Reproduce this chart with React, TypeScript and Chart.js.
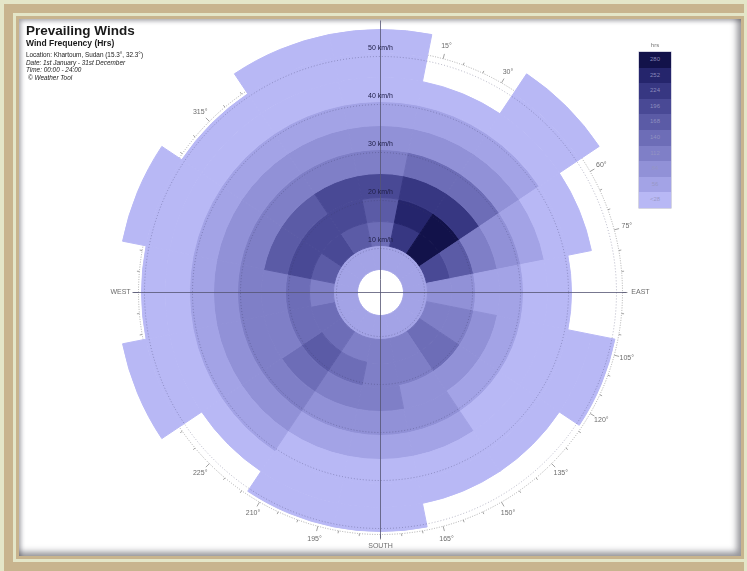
import React, { useEffect, useRef } from 'react';
import { Chart, registerables } from 'chart.js';

Chart.register(...registerables);

// ---- data ----
const directions = ['N', 'NNE', 'NE', 'ENE', 'E', 'ESE', 'SE', 'SSE', 'S', 'SSW', 'SW', 'WSW', 'W', 'WNW', 'NW', 'NNW'];
const speedBins = ['5-10', '10-15', '15-20', '20-25', '25-30', '30-35', '35-40', '40-45', '45-50', '50-55']; // km/h

// hours per direction (N .. NNW) for each wind speed band
const hours5to10 = [48, 52, 55, 46, 38, 36, 41, 44, 47, 45, 50, 49, 43, 51, 53, 50];
const hours10to15 = [128, 210, 268, 182, 74, 96, 124, 92, 98, 101, 118, 126, 104, 150, 176, 146];
const hours15to20 = [152, 240, 285, 158, 70, 94, 130, 90, 96, 122, 148, 120, 116, 178, 172, 180];
const hours20to25 = [175, 205, 215, 100, 44, 66, 72, 64, 88, 92, 120, 110, 104, 146, 142, 170];
const hours25to30 = [98, 124, 118, 68, 40, 36, 42, 60, 66, 62, 92, 94, 90, 100, 96, 102];
const hours30to35 = [70, 64, 62, 38, 22, 20, 24, 34, 40, 36, 60, 66, 62, 68, 64, 72];
const hours35to40 = [44, 38, 40, 20, 14, 18, 16, 22, 24, 21, 34, 38, 32, 40, 36, 42];
const hours40to45 = [18, 12, 20, 10, 0, 14, 11, 12, 16, 15, 13, 22, 17, 21, 19, 23];
const hours45to50 = [12, 0, 14, 0, 0, 8, 0, 0, 9, 8, 0, 15, 10, 14, 9, 13];
const hours50to55 = [7, 0, 8, 0, 0, 0, 0, 0, 0, 0, 0, 6, 0, 7, 0, 6];

const bands = [hours5to10, hours10to15, hours15to20, hours20to25, hours25to30, hours30to35, hours35to40, hours40to45, hours45to50, hours50to55];

const legendStep = 28;
const legendLabels = ['280', '252', '224', '196', '168', '140', '112', '84', '56', '<28'];
const speedLabelValues = [10, 20, 30, 40, 50];
const degreeLabels = [15, 30, 45, 60, 75, 105, 120, 135, 150, 165, 195, 210, 225, 240, 255, 285, 300, 315, 330, 345];
const cardinalAngles = [0, 90, 180, 270];
const cardinalNames = ['NORTH', 'EAST', 'SOUTH', 'WEST'];

// ---- styles ----
const PALETTE = ['#b8b8f5', '#a3a3e6', '#9191d7', '#7f7fc7', '#6d6db7', '#5b5ba6', '#494995', '#373782', '#25256c', '#12124a'];
const FONT = '"Liberation Sans", Arial, Helvetica, sans-serif';

function levelOf(h: number) {
  return Math.min(PALETTE.length - 1, Math.max(0, Math.ceil(h / legendStep) - 1));
}
function colorOf(h: number) {
  return h > 0 ? PALETTE[levelOf(h)] : 'rgba(0,0,0,0)';
}

function geometry(chart: any) {
  const n = chart.data.datasets.length;
  const outerArc: any = chart.getDatasetMeta(0).data[0];
  const innerArc: any = chart.getDatasetMeta(n - 1).data[0];
  const cx = outerArc.x;
  const cy = outerArc.y;
  const outer = outerArc.outerRadius;
  const hole = innerArc.innerRadius;
  const ring = (outer - hole) / n;
  const r = (s: number) => hole + ((s - 5) / 5) * ring;
  const pt = (deg: number, rad: number) => {
    const a = (deg * Math.PI) / 180;
    return [cx + rad * Math.sin(a), cy - rad * Math.cos(a)];
  };
  return { cx, cy, outer, hole, ring, r, pt };
}

const overlayPlugin = {
  id: 'windRoseOverlay',
  beforeDatasetsDraw(chart: any) {
    const { cx, cy, r, pt } = geometry(chart);
    const ctx = chart.ctx as CanvasRenderingContext2D;
    const scaleR = r(50) + 3;
    ctx.save();
    ctx.strokeStyle = '#9a9a9a';
    ctx.lineWidth = 0.8;
    ctx.setLineDash([1, 1.5]);
    ctx.beginPath();
    ctx.arc(cx, cy, scaleR, 0, Math.PI * 2);
    ctx.stroke();
    ctx.setLineDash([]);
    ctx.strokeStyle = '#8a8a8a';
    for (let d = 0; d < 360; d += 5) {
      const len = d % 15 === 0 ? 5 : 2.5;
      const [x1, y1] = pt(d, scaleR);
      const [x2, y2] = pt(d, scaleR + len);
      ctx.beginPath();
      ctx.moveTo(x1, y1);
      ctx.lineTo(x2, y2);
      ctx.stroke();
    }
    ctx.font = `7px ${FONT}`;
    ctx.fillStyle = '#6c6c6c';
    ctx.textAlign = 'center';
    ctx.textBaseline = 'middle';
    degreeLabels.forEach((d) => {
      const [x, y] = pt(d, scaleR + 13);
      ctx.fillText(`${d}°`, x, y);
    });
    cardinalAngles.forEach((d, i) => {
      const [x, y] = pt(d, scaleR + (d % 180 === 0 ? 12 : 18));
      ctx.fillText(cardinalNames[i], x, y);
    });
    ctx.restore();
  },
  afterDatasetsDraw(chart: any) {
    const { cx, cy, outer, r } = geometry(chart);
    const ctx = chart.ctx as CanvasRenderingContext2D;
    const scaleR = r(50) + 3;
    ctx.save();
    ctx.strokeStyle = 'rgba(60,60,100,0.45)';
    ctx.lineWidth = 0.8;
    ctx.setLineDash([1, 2]);
    speedLabelValues.forEach((s) => {
      ctx.beginPath();
      ctx.arc(cx, cy, r(s) - 3, 0, Math.PI * 2);
      ctx.stroke();
    });
    ctx.setLineDash([]);
    ctx.strokeStyle = 'rgba(85,85,115,0.8)';
    ctx.lineWidth = 1;
    ctx.beginPath();
    ctx.moveTo(cx - scaleR - 6, cy);
    ctx.lineTo(cx + scaleR + 4, cy);
    ctx.moveTo(cx, cy - outer - 9);
    ctx.lineTo(cx, cy + scaleR + 4);
    ctx.stroke();
    ctx.font = `7px ${FONT}`;
    ctx.fillStyle = '#20204a';
    ctx.textAlign = 'center';
    ctx.textBaseline = 'middle';
    speedLabelValues.forEach((s) => {
      ctx.fillText(`${s} km/h`, cx, cy - r(s) - 5);
    });
    ctx.restore();
  },
};

export default function App() {
  const canvasRef = useRef<HTMLCanvasElement | null>(null);

  useEffect(() => {
    if (!canvasRef.current) return;
    const outerToInner = bands.map((values, i) => ({ values, label: speedBins[i] })).reverse();
    const chart = new Chart(canvasRef.current, {
      type: 'doughnut',
      data: {
        labels: directions,
        datasets: outerToInner.map((band) => ({
          label: `${band.label} km/h`,
          data: directions.map(() => 1),
          backgroundColor: band.values.map(colorOf),
          borderColor: band.values.map(colorOf),
          borderWidth: 1,
          borderJoinStyle: 'miter',
          hoverOffset: 0,
        })),
      },
      options: {
        animation: false,
        responsive: false,
        events: [],
        radius: 263,
        cutout: '8.75%',
        rotation: -11.25,
        layout: { padding: { left: 14, top: 14 } },
        plugins: { legend: { display: false }, tooltip: { enabled: false } },
      } as any,
      plugins: [overlayPlugin],
    });
    return () => chart.destroy();
  }, []);

  const cream = '#e4e6c8';
  const textLine = (top: number, size: number, text: string, extra: React.CSSProperties = {}) => (
    <div
      style={{
        position: 'absolute',
        left: 26,
        top,
        fontFamily: FONT,
        fontSize: size,
        lineHeight: `${size}px`,
        color: '#1a1a1a',
        whiteSpace: 'nowrap',
        ...extra,
      }}
    >
      {text}
    </div>
  );

  return (
    <div style={{ position: 'fixed', left: 0, top: 0, width: 747, height: 571, background: '#c8b48e', overflow: 'hidden' }}>
      <div
        style={{
          position: 'absolute', left: 0, top: 0, width: 747, height: 600, boxSizing: 'border-box',
          borderTop: `4px solid ${cream}`, borderLeft: `4px solid ${cream}`, borderRight: `3px solid ${cream}`,
        }}
      />
      <div style={{ position: 'absolute', left: 13, top: 13, width: 734, height: 549, boxSizing: 'border-box', border: `3px solid ${cream}` }} />
      <div
        style={{
          position: 'absolute', left: 19, top: 19, width: 722, height: 537, background: '#ffffff',
          boxShadow: 'inset -6px -6px 6px -2px rgba(60,60,70,0.55), inset 3px 3px 4px -1px rgba(60,60,70,0.45)',
        }}
      />
      <canvas ref={canvasRef} width={747} height={571} style={{ position: 'absolute', left: 0, top: 0, width: 747, height: 571 }} />
      {textLine(23.5, 13.5, 'Prevailing Winds', { fontWeight: 'bold' })}
      {textLine(39, 8.5, 'Wind Frequency (Hrs)', { fontWeight: 'bold' })}
      {textLine(51.5, 6.4, 'Location: Khartoum, Sudan (15.3°, 32.3°)')}
      {textLine(59.5, 6.4, 'Date: 1st January - 31st December', { fontStyle: 'italic' })}
      {textLine(67, 6.4, 'Time: 00:00 - 24:00', { fontStyle: 'italic' })}
      {textLine(74.5, 6.4, '© Weather Tool', { fontStyle: 'italic', left: 28 })}
      <div style={{ position: 'absolute', left: 639, top: 42, width: 32, textAlign: 'center', fontFamily: FONT, fontSize: 6, lineHeight: '6px', color: '#777' }}>hrs</div>
      <div style={{ position: 'absolute', left: 639, top: 52, width: 32, height: 156, boxShadow: '0 0 0 0.5px rgba(90,90,140,0.5)' }}>
        {legendLabels.map((lab, i) => (
          <div
            key={lab}
            style={{
              height: 15.6,
              background: PALETTE[PALETTE.length - 1 - i],
              color: 'rgba(150,150,195,0.9)',
              fontFamily: FONT,
              fontSize: 6,
              lineHeight: '15.6px',
              textAlign: 'center',
            }}
          >
            {lab}
          </div>
        ))}
      </div>
    </div>
  );
}
